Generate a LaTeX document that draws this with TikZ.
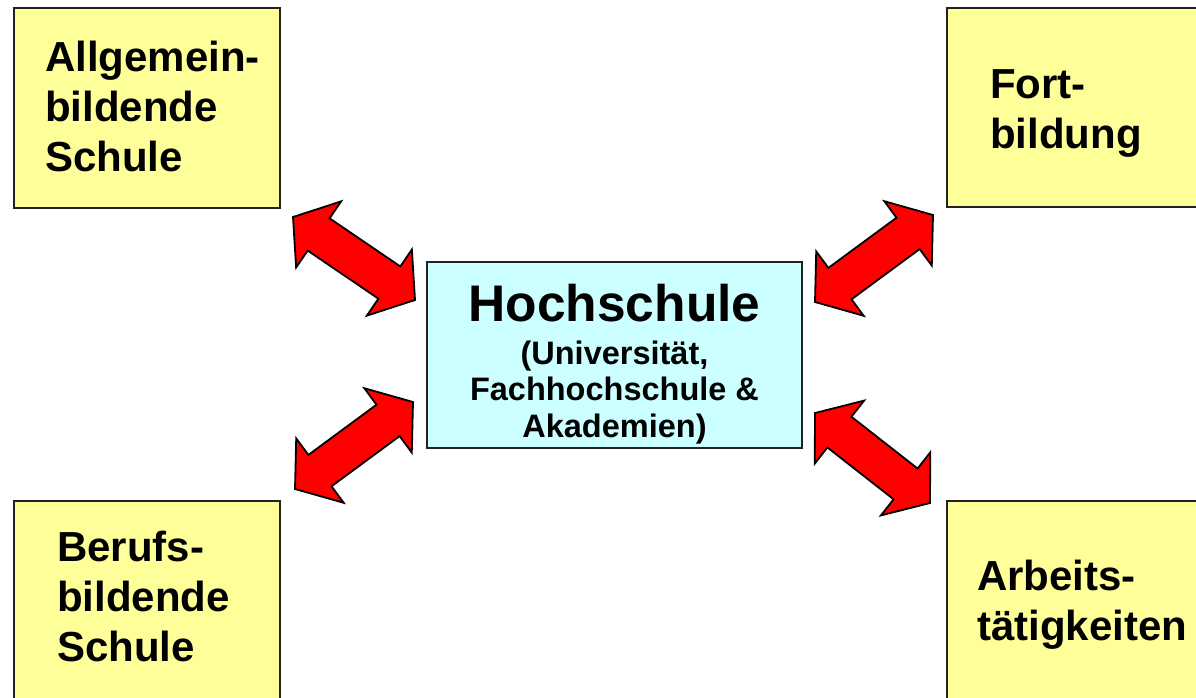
\documentclass[tikz,border=0pt]{standalone}
\usepackage{fontspec}
\setmainfont{Liberation Sans}
\usetikzlibrary{calc}
\definecolor{boxyellow}{HTML}{FFFF99}
\definecolor{boxcyan}{HTML}{CCFFFF}
\definecolor{arrowred}{HTML}{FF0000}
\definecolor{edgegray}{HTML}{222222}
\newcommand\myhl{31pt}
\newcommand\myhw{40pt}
\newcommand\mysw{19.5pt}
\newcommand\dblarrow[2]{%
  \draw[blockarrow] (#1)
    -- ($(#1)!\myhl!(#2)!\myhw!90:(#2)$)
    -- ($(#1)!\myhl!(#2)!\mysw!90:(#2)$)
    -- ($(#2)!\myhl!(#1)!\mysw!-90:(#1)$)
    -- ($(#2)!\myhl!(#1)!\myhw!-90:(#1)$)
    -- (#2)
    -- ($(#2)!\myhl!(#1)!-\myhw!-90:(#1)$)
    -- ($(#2)!\myhl!(#1)!-\mysw!-90:(#1)$)
    -- ($(#1)!\myhl!(#2)!-\mysw!90:(#2)$)
    -- ($(#1)!\myhl!(#2)!-\myhw!90:(#2)$)
    -- cycle;}
\tikzset{
  boxnode/.style={rectangle, draw=edgegray, line width=1.3pt, fill=boxyellow, inner sep=0pt, outer sep=0pt},
  centerbox/.style={boxnode, fill=boxcyan},
  boxtext/.style={anchor=base west, inner sep=0pt, align=left, font=\bfseries\fontsize{42}{50}\selectfont},
  subtext/.style={anchor=base, inner sep=0pt, align=center, font=\bfseries\fontsize{32.5}{36.5}\selectfont},
  titletext/.style={anchor=base, inner sep=0pt, font=\bfseries\fontsize{51.5}{60}\selectfont},
  blockarrow/.style={fill=arrowred, draw=black, line width=1.8pt, line join=miter},
}
\begin{document}
\begin{tikzpicture}[x=1pt, y=-1pt]
  \useasboundingbox (0,0) rectangle (1196,697);
  \clip (0,0) rectangle (1196,697);
  \fill[white] (0,0) rectangle (1196,697);
  % boxes
  \node[boxnode, minimum width=266pt, minimum height=200pt] (tl) at (147,108) {};
  \node[boxnode, minimum width=263pt, minimum height=199pt] (tr) at (1078.5,107.5) {};
  \node[boxnode, minimum width=266pt, minimum height=209pt] (bl) at (147,605.5) {};
  \node[boxnode, minimum width=263pt, minimum height=209pt] (br) at (1078.5,605.5) {};
  \node[centerbox, minimum width=375pt, minimum height=186pt] (hs) at (614.5,355) {};
  % texts (base anchor = baseline of the last line)
  \node[boxtext] (tltext) at (45,171) {Allgemein-\\bildende\\Schule};
  \node[boxtext] (trtext) at (990,148) {Fort-\\bildung};
  \node[boxtext] (bltext) at (57,661) {Berufs-\\bildende\\Schule};
  \node[boxtext] (brtext) at (977,640) {Arbeits-\\tätigkeiten};
  \node[titletext] (hstitle) at (614.5,321) {Hochschule};
  \node[subtext] (hssub) at (614.5,437) {(Universität,\\Fachhochschule \&\\Akademien)};
  % arrow ends
  \coordinate (a1s) at (293,217);
  \coordinate (a1e) at (415,300);
  \coordinate (a2s) at (815,302);
  \coordinate (a2e) at (933,215);
  \coordinate (a3s) at (413,402);
  \coordinate (a3e) at (295,489);
  \coordinate (a4s) at (815,413);
  \coordinate (a4e) at (930,503);
  \dblarrow{a1s}{a1e}
  \dblarrow{a2s}{a2e}
  \dblarrow{a3s}{a3e}
  \dblarrow{a4s}{a4e}
\end{tikzpicture}
\end{document}
